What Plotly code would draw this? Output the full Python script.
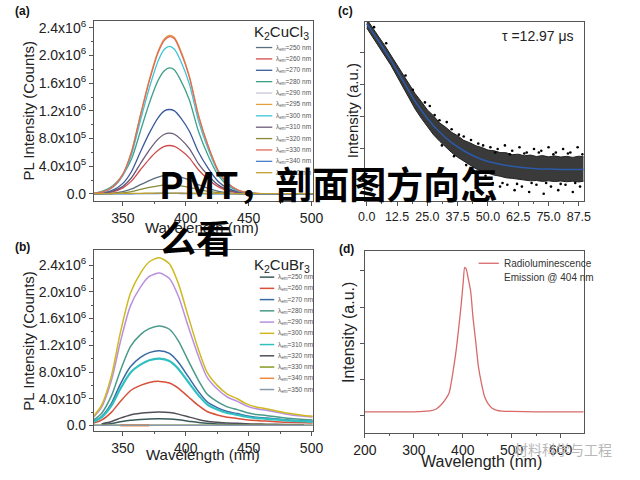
import plotly.graph_objects as go

W, H = 640, 480
def fx(x): return x / W
def fy(y): return 1 - y / H

FONT = "Liberation Sans, Arial, sans-serif"

# ---------------- (a) K2CuCl3 : PL spectra (values in units of 1e5 counts) ----------------
wl_cl = [326, 335, 342, 350, 357, 364, 371, 378, 383, 387, 391, 396, 403, 410, 418, 426, 434, 442, 450, 460, 475, 490, 501]
cl_250 = [0.01, 0.04, 0.12, 0.34, 0.73, 1.35, 1.94, 2.43, 2.65, 2.70, 2.65, 2.43, 2.00, 1.35, 0.81, 0.39, 0.17, 0.06, 0.02, 0.01, 0.01, 0.01, 0.01]
cl_260 = [0.02, 0.11, 0.32, 0.88, 1.89, 3.50, 5.04, 6.30, 6.86, 7.00, 6.86, 6.30, 5.18, 3.50, 2.10, 1.02, 0.44, 0.16, 0.06, 0.02, 0.01, 0.01, 0.01]
cl_270 = [0.04, 0.18, 0.55, 1.53, 3.29, 6.10, 8.78, 11.0, 12.0, 12.2, 12.0, 11.0, 9.03, 6.10, 3.66, 1.77, 0.77, 0.28, 0.10, 0.02, 0.01, 0.01, 0.01]
cl_280 = [0.08, 0.50, 1.20, 2.80, 5.10, 9.10, 13.1, 16.4, 17.8, 18.2, 17.9, 16.4, 13.5, 9.10, 5.46, 2.64, 1.15, 0.42, 0.15, 0.04, 0.02, 0.01, 0.01]
cl_290 = [0.00, 0.00, 0.01, 0.02, 0.03, 0.06, 0.09, 0.11, 0.12, 0.12, 0.12, 0.11, 0.09, 0.06, 0.04, 0.02, 0.01, 0.00, 0.00, 0.00, 0.00, 0.00, 0.00]
cl_295 = [0.07, 0.34, 1.03, 2.86, 6.18, 11.45, 16.5, 20.6, 22.4, 22.9, 22.6, 20.7, 16.9, 11.45, 6.87, 3.32, 1.44, 0.53, 0.18, 0.05, 0.02, 0.01, 0.01]
cl_300 = [0.06, 0.32, 0.96, 2.66, 5.75, 10.65, 15.3, 19.2, 20.9, 21.3, 20.9, 19.2, 15.8, 10.65, 6.39, 3.09, 1.34, 0.49, 0.17, 0.04, 0.02, 0.01, 0.01]
cl_310 = [0.03, 0.13, 0.40, 1.10, 2.38, 4.40, 6.34, 7.92, 8.62, 8.80, 8.62, 7.92, 6.51, 4.40, 2.64, 1.28, 0.55, 0.20, 0.07, 0.02, 0.01, 0.01, 0.01]
cl_320 = [0.01, 0.02, 0.06, 0.16, 0.35, 0.65, 0.94, 1.17, 1.27, 1.30, 1.27, 1.17, 0.96, 0.65, 0.39, 0.19, 0.08, 0.03, 0.01, 0.01, 0.01, 0.01, 0.01]
cl_330 = [0.07, 0.34, 1.02, 2.84, 6.13, 11.35, 16.3, 20.4, 22.2, 22.7, 22.4, 20.5, 16.8, 11.35, 6.81, 3.29, 1.43, 0.52, 0.18, 0.05, 0.02, 0.01, 0.01]
cl_340 = [0.00, 0.01, 0.01, 0.02, 0.03, 0.05, 0.06, 0.07, 0.08, 0.08, 0.08, 0.07, 0.06, 0.05, 0.03, 0.02, 0.01, 0.01, 0.00, 0.00, 0.00, 0.00, 0.00]
cl_350 = [0.05, 0.06, 0.07, 0.08, 0.09, 0.10, 0.11, 0.12, 0.12, 0.12, 0.12, 0.12, 0.11, 0.10, 0.09, 0.08, 0.07, 0.06, 0.06, 0.05, 0.05, 0.05, 0.05]
em_cl = [250, 260, 270, 280, 290, 295, 300, 310, 320, 330, 340, 350]
colors_cl = ["#5a6e7e", "#d04a4a", "#3a5a9a", "#3fa08a", "#c8c8d8", "#e0a040",
             "#3ec5d5", "#6a5a78", "#8a8a3a", "#e06a5a", "#4a80c8", "#c0a030"]
series_cl = [cl_250, cl_260, cl_270, cl_280, cl_290, cl_295, cl_300, cl_310, cl_320, cl_330, cl_340, cl_350]

# ---------------- (b) K2CuBr3 : PL spectra (units of 1e5 counts) ----------------
wl_br = [325, 333, 341, 348, 356, 364, 371, 379, 387, 394, 402, 410, 417, 425, 433, 441, 448, 456, 464, 479, 494, 501]
br_250 = [None, 0.12, 0.30, 0.55, 0.79, 0.91, 0.98, 1.00, 0.96, 0.85, 0.65, 0.45, 0.32, 0.24, 0.19, 0.16, 0.13, 0.11, 0.10, None, None, None]
br_260 = [0.26, 0.79, 2.00, 3.60, 5.20, 6.00, 6.44, 6.60, 6.36, 5.60, 4.30, 3.00, 2.09, 1.58, 1.23, 1.05, 0.86, 0.73, 0.66, 0.50, 0.40, 0.36]
br_270 = [0.45, 1.34, 3.35, 6.20, 8.80, 10.2, 10.9, 11.2, 10.8, 9.50, 7.30, 5.10, 3.55, 2.68, 2.10, 1.78, 1.46, 1.23, 1.12, 0.85, 0.67, 0.62]
br_280 = [0.60, 1.80, 4.50, 8.20, 11.8, 13.6, 14.5, 14.9, 14.4, 12.7, 9.70, 6.80, 4.70, 3.56, 2.79, 2.37, 1.94, 1.64, 1.49, 1.13, 0.89, 0.82]
br_290 = [0.90, 2.70, 6.80, 12.5, 17.9, 20.7, 22.3, 22.8, 22.0, 19.4, 14.8, 10.4, 7.20, 5.45, 4.26, 3.60, 2.96, 2.50, 2.28, 1.73, 1.37, 1.25]
br_300 = [1.00, 3.00, 7.50, 13.9, 19.8, 22.8, 24.5, 25.1, 24.2, 21.3, 16.3, 11.4, 7.95, 6.00, 4.70, 4.00, 3.26, 2.77, 2.50, 1.90, 1.50, 1.38]
br_310 = [0.40, 1.20, 3.00, 5.50, 7.90, 9.10, 9.76, 10.0, 9.64, 8.50, 6.50, 4.54, 3.17, 2.39, 1.87, 1.59, 1.30, 1.10, 1.00, 0.76, 0.60, 0.55]
br_320 = [None, 0.24, 0.60, 1.10, 1.58, 1.82, 1.95, 2.00, 1.93, 1.70, 1.30, 0.91, 0.63, 0.48, 0.37, 0.32, 0.26, 0.22, 0.20, 0.15, 0.12, None]
br_330 = [0.05, 0.05, 0.05, 0.05, 0.05, 0.05, 0.05, 0.05, 0.05, 0.05, 0.05, 0.05, 0.05, 0.05, 0.05, 0.05, 0.05, 0.05, 0.05, 0.05, 0.05, 0.05]
br_340 = [None, None, None, 0.04, 0.04, 0.04, 0.04, None, None, None, None, None, None, None, None, None, None, None, None, None, None, None]
br_350 = [0.02, 0.02, 0.02, 0.02, 0.02, 0.02, 0.02, 0.02, 0.02, 0.02, 0.02, 0.02, 0.02, 0.02, 0.02, 0.02, 0.02, 0.02, 0.02, 0.02, 0.02, 0.02]
em_br = [250, 260, 270, 280, 290, 300, 310, 320, 330, 340, 350]
colors_br = ["#3a5a5a", "#d8503a", "#3a6aa5", "#4a9a8a", "#b890e0", "#d0b820",
             "#30c0c0", "#505058", "#8a9a20", "#f08840", "#8a9aa8"]
series_br = [br_250, br_260, br_270, br_280, br_290, br_300, br_310, br_320, br_330, br_340, br_350]
width_br = [1.5, 1.5, 1.5, 1.5, 1.5, 1.5, 2.2, 1.5, 1.5, 2.5, 1.5]

y_tickvals = [0, 4, 8, 12, 16, 20, 24]
y_ticktext = ["0.0", "4.0x10<sup>5</sup>", "8.0x10<sup>5</sup>", "1.2x10<sup>6</sup>",
              "1.6x10<sup>6</sup>", "2.0x10<sup>6</sup>", "2.4x10<sup>6</sup>"]

# ---------------- (c) decay (arbitrary units) ----------------
t_fit = [0, 5, 10, 15, 20, 25, 30, 35, 40, 45, 50, 55, 60, 65, 70, 75, 80, 85, 89.5]
i_fit = [99, 89, 78.5, 67, 55.5, 46, 38.5, 32.5, 28, 24.5, 22, 20.5, 19.3, 18.5, 18, 17.8, 17.6, 17.5, 17.5]
t_band = [0, 2.5, 5, 7.5, 10, 12.5, 15, 17.5, 20, 22.5, 25, 27.5, 30, 32.5, 35, 37.5, 40, 42.5, 45,
          47.5, 50, 52.5, 55, 57.5, 60, 62.5, 65, 67.5, 70, 72.5, 75, 77.5, 80, 82.5, 85, 87.5, 89.5]
i_upper = [101.5, 96.8, 91.5, 86.6, 81.2, 76, 70.3, 65.2, 59.8, 55.5, 50.8, 47.6, 43.6, 41.2, 38.3, 36.4,
           33.8, 32.5, 30.8, 29.8, 28.4, 28.0, 27.0, 26.9, 25.8, 26.1, 25.2, 25.6, 24.8, 25.3, 24.6, 25.1,
           24.5, 24.9, 24.3, 25.0, 24.6]
i_lower = [96.5, 91.4, 86.3, 80.9, 75.6, 69.5, 63.4, 57.5, 51.2, 46.1, 41.3, 37.0, 33.4, 30.0, 27.0, 24.4,
           22.2, 20.0, 18.0, 16.6, 15.3, 14.4, 13.8, 12.9, 12.6, 12.0, 11.8, 11.2, 11.4, 10.9, 11.2, 10.8,
           11.1, 10.7, 11.0, 10.6, 11.0]
t_pts = [3, 8, 16, 19, 24, 26, 28, 30, 31, 33, 35, 36, 38, 40, 41, 43, 44, 46, 48, 49, 51, 52, 53, 54, 55,
         56, 57, 58, 59, 60, 61, 62, 63, 64, 65, 66, 67, 68, 69, 70, 71, 72, 73, 74, 75, 76, 77, 78, 79,
         80, 81, 82, 83, 84, 85, 86, 87, 88, 89]
i_pts = [97, 88, 70, 62, 55, 53, 48, 45, 31, 44, 40, 25, 37, 36, 20, 34, 17, 32, 31, 14, 30, 10, 27, 29, 8,
         10, 31, 9, 26, 28, 6, 9.5, 30, 8, 26.5, 27, 5, 10, 29, 9, 27, 28, 4, 10, 30, 8, 26, 27, 6,
         9.5, 29, 9, 26.5, 27, 5, 10, 30, 8, 26]

# ---------------- (d) radioluminescence ----------------
wl_rl = [200, 250, 300, 320, 335, 345, 355, 365, 372, 380, 386, 392, 397, 401, 404, 407, 411, 416, 421,
         426, 432, 438, 445, 452, 460, 470, 480, 500, 550, 600, 647]
rl = [0.10, 0.10, 0.10, 0.11, 0.13, 0.17, 0.28, 0.45, 0.62, 1.20, 1.75, 2.45, 3.10, 3.70, 4.10, 4.05,
      3.80, 3.45, 2.70, 2.10, 1.35, 0.90, 0.50, 0.32, 0.20, 0.14, 0.12, 0.11, 0.10, 0.10, 0.10]

fig = go.Figure()

def add_line(x, y, color, width, xa, ya, shape="spline"):
    fig.add_trace(go.Scatter(x=x, y=y, mode="lines",
                             line=dict(color=color, width=width, shape=shape, smoothing=0.7),
                             xaxis=xa, yaxis=ya, showlegend=False, hoverinfo="skip"))

for s, c in zip(series_cl, colors_cl):
    add_line(wl_cl, s, c, 1.3, "x", "y")
for s, c, w in zip(series_br, colors_br, width_br):
    add_line(wl_br, s, c, w, "x3", "y3")

# (c) band of scattered data, outliers, fit
fig.add_trace(go.Scatter(x=t_band, y=i_lower, mode="lines", line=dict(color="#222", width=1),
                         xaxis="x2", yaxis="y2", showlegend=False, hoverinfo="skip"))
fig.add_trace(go.Scatter(x=t_band, y=i_upper, mode="lines", line=dict(color="#222", width=1),
                         fill="tonexty", fillcolor="rgba(20,20,20,0.84)",
                         xaxis="x2", yaxis="y2", showlegend=False, hoverinfo="skip"))
fig.add_trace(go.Scatter(x=t_pts, y=i_pts, mode="markers", marker=dict(color="#000", size=2.6),
                         xaxis="x2", yaxis="y2", showlegend=False, hoverinfo="skip"))
add_line(t_fit, i_fit, "#2a5aa8", 1.5, "x2", "y2")

# (d)
add_line(wl_rl, rl, "#d86a6a", 1.3, "x4", "y4")

ax = dict(showline=True, linecolor="#555", linewidth=1, mirror=True, ticks="outside", ticklen=4,
          tickcolor="#555", showgrid=False, zeroline=False,
          tickfont=dict(family=FONT, size=14, color="#222"))
mtick = dict(ticks="outside", ticklen=2, tickcolor="#555")
ytitle = dict(text="PL Intensity (Counts)", font=dict(family=FONT, size=15, color="#222"), standoff=0)

fig.update_layout(
    width=W, height=H, margin=dict(l=0, r=0, t=0, b=0),
    paper_bgcolor="white", plot_bgcolor="white", showlegend=False,
    xaxis=dict(ax, domain=[fx(85), fx(312)], anchor="y", range=[327, 501],
               tickvals=[350, 400, 450, 500], minor=dict(mtick, tickvals=[375, 425, 475])),
    yaxis=dict(ax, domain=[fy(200), fy(18)], anchor="x", range=[-1, 25],
               tickvals=y_tickvals, ticktext=y_ticktext, title=ytitle,
               minor=dict(mtick, tickvals=[2, 6, 10, 14, 18, 22])),
    xaxis3=dict(ax, domain=[fx(85), fx(312)], anchor="y3", range=[327, 501],
                tickvals=[350, 400, 450, 500], minor=dict(mtick, tickvals=[375, 425, 475])),
    yaxis3=dict(ax, domain=[fy(433), fy(250)], anchor="x3", range=[-0.9, 26.2],
                tickvals=y_tickvals, ticktext=y_ticktext, title=ytitle,
                minor=dict(mtick, tickvals=[2, 6, 10, 14, 18, 22])),
    xaxis2=dict(ax, domain=[fx(366), fx(593)], anchor="y2", range=[-0.8, 89.5],
                tickvals=[0, 12.5, 25, 37.5, 50, 62.5, 75, 87.5], tickformat=".1f",
                tickfont=dict(family=FONT, size=12.5, color="#222"),
                minor=dict(mtick, tickvals=[6.25, 18.75, 31.25, 43.75, 56.25, 68.75, 81.25])),
    yaxis2=dict(ax, domain=[fy(200), fy(19)], anchor="x2", range=[0, 100],
                tickvals=[11, 29, 47, 65, 83], showticklabels=False),
    xaxis4=dict(ax, domain=[fx(366), fx(593)], anchor="y4", range=[200, 647],
                tickvals=[200, 300, 400, 500, 600], minor=dict(mtick, tickvals=[250, 350, 450, 550])),
    yaxis4=dict(ax, domain=[fy(435), fy(251)], anchor="x4", range=[-0.5, 4.54],
                tickvals=[0, 1, 2, 3, 4], showticklabels=False),
)

ann = []
shapes = []
def text(x, y, s, size, color="#222", xanchor="left", family=FONT, angle=0):
    ann.append(dict(x=fx(x), y=fy(y), xref="paper", yref="paper", text=s, showarrow=False,
                    xanchor=xanchor, yanchor="middle", textangle=angle,
                    font=dict(family=family, size=size, color=color)))

# axis titles
text(197, 227, "Wavelength (nm)", 15, "#222", "center")
text(198, 456, "Wavelength (nm)", 15, "#222", "center")
text(354, 109, "Intensity (a.u.)", 15, "#222", "center", angle=-90)
text(349, 333, "Intensity (a.u.)", 16, "#222", "center", angle=-90)
text(487, 463, "Wavelength (nm)", 16, "#222", "center")

# panel labels
text(1, 8, "<b>(a)</b>", 12, "#111")
text(1, 247, "<b>(b)</b>", 12, "#111")
text(336, 8, "<b>(c)</b>", 12, "#111")
text(337, 249, "<b>(d)</b>", 12, "#111")

# legend (a)
text(310, 30, "K<sub>2</sub>CuCl<sub>3</sub>", 15, "#222", "right")
for i, (e, c) in enumerate(zip(em_cl, colors_cl)):
    yy = 45 + 11.5 * i
    shapes.append(dict(type="line", xref="paper", yref="paper", x0=fx(253), x1=fx(270), y0=fy(yy), y1=fy(yy),
                       line=dict(color=c, width=1.3)))
    text(272, yy, "λ<sub>em</sub>=%d nm" % e, 6.5, "#555")

# legend (b)
text(311, 265, "K<sub>2</sub>CuBr<sub>3</sub>", 15, "#222", "right")
for i, (e, c) in enumerate(zip(em_br, colors_br)):
    yy = 277 + 11.36 * i
    shapes.append(dict(type="line", xref="paper", yref="paper", x0=fx(257), x1=fx(272), y0=fy(yy), y1=fy(yy),
                       line=dict(color=c, width=1.5)))
    text(274, yy, "λ<sub>em</sub>=%d nm" % e, 6.5, "#555")

# (c) lifetime
text(546, 33, "τ =12.97 μs", 14, "#222", "center")

# (d) legend
shapes.append(dict(type="line", xref="paper", yref="paper", x0=fx(484), x1=fx(505), y0=fy(263), y1=fy(263),
                   line=dict(color="#d86a6a", width=1.3)))
text(508, 263, "Radioluminescence", 10, "#333")
text(508, 277, "Emission @ 404 nm", 10, "#333")

# watermark
text(519, 451, "材料科学与工程", 14, "#b8b8b8", "left", "Noto Sans CJK SC")

# overlay title
CJK = "Noto Sans CJK SC, sans-serif"
text(150, 182, "<b>PMT，剖面图方向怎</b>", 37, "#000", "left", CJK)
text(150, 236, "<b>么看</b>", 37, "#000", "left", CJK)

fig.update_layout(annotations=ann, shapes=shapes)
fig.write_html("out.html", config={"displayModeBar": False},
               post_script="document.body.style.margin='0px';")
